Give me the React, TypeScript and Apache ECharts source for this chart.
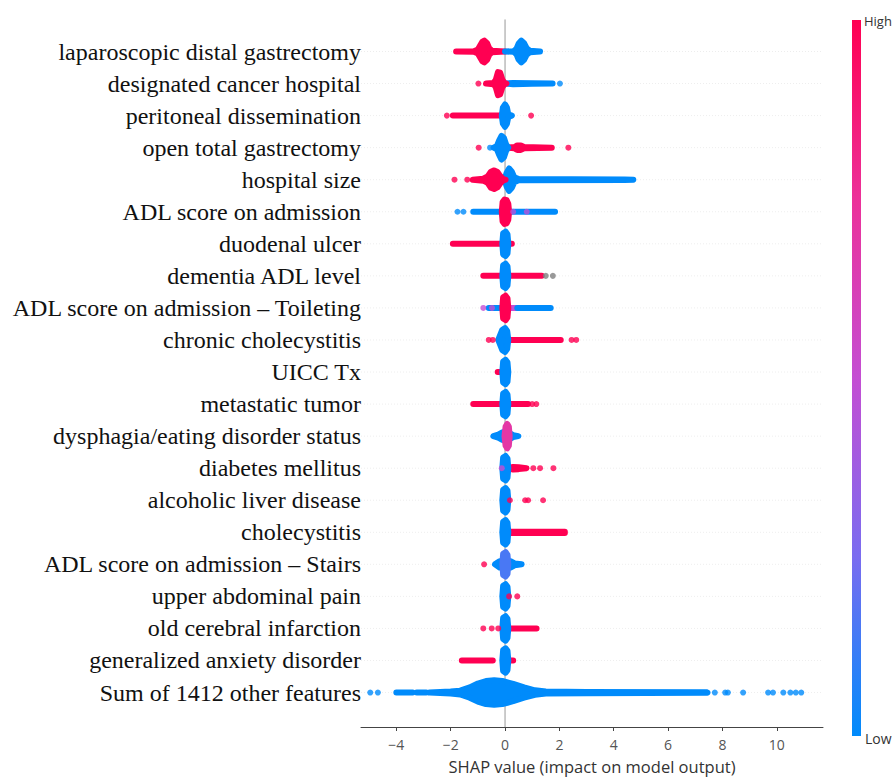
import React, { useEffect, useRef } from "react";
import * as echarts from "echarts";

// Feature names, top to bottom
const features = [
  "laparoscopic distal gastrectomy",
  "designated cancer hospital",
  "peritoneal dissemination",
  "open total gastrectomy",
  "hospital size",
  "ADL score on admission",
  "duodenal ulcer",
  "dementia ADL level",
  "ADL score on admission – Toileting",
  "chronic cholecystitis",
  "UICC Tx",
  "metastatic tumor",
  "dysphagia/eating disorder status",
  "diabetes mellitus",
  "alcoholic liver disease",
  "cholecystitis",
  "ADL score on admission – Stairs",
  "upper abdominal pain",
  "old cerebral infarction",
  "generalized anxiety disorder",
  "Sum of 1412 other features",
];

const xTicks = [-4, -2, 0, 2, 4, 6, 8, 10];

// Density profile of the narrow spike of points piled up at SHAP ≈ 0: [shap, half-height in rows]
const zeroSpindle: number[][] = [[-0.1, 0], [-0.07, 0.33], [0.02, 0.38], [0.09, 0.3], [0.12, 0]];

// Dense runs / swarms: [row, feature value (0 low .. 1 high), profile [[shap, halfHeight], ...]]
const swarms: [number, number, number[][]][] = [
  [0, 1, [[-1.8, 0], [-1.15, 0.01], [-1.0, 0.06], [-0.92, 0.18], [-0.84, 0.3], [-0.76, 0.34], [-0.66, 0.26], [-0.58, 0.1], [-0.48, 0.02], [0, 0]]],
  [0, 0, [[0, 0], [0.32, 0.01], [0.42, 0.08], [0.5, 0.25], [0.6, 0.34], [0.7, 0.26], [0.8, 0.1], [0.92, 0.02], [1.29, 0]]],
  [1, 0, [[0, 0], [0.3, 0.02], [1.0, 0.01], [1.75, 0]]],
  [1, 1, [[-0.7, 0], [-0.42, 0.02], [-0.34, 0.12], [-0.26, 0.36], [-0.18, 0.34], [-0.1, 0.12], [-0.02, 0.02], [0.05, 0]]],
  [2, 1, [[-1.92, 0], [0.05, 0]]],
  [2, 0, [[-0.12, 0], [-0.08, 0.25], [0, 0.35], [0.07, 0.25], [0.12, 0.04], [0.25, 0]]],
  [3, 1, [[0, 0], [0.35, 0.02], [0.45, 0.07], [0.58, 0.07], [0.7, 0.02], [1.72, 0]]],
  [3, 0, [[-0.42, 0], [-0.3, 0.05], [-0.22, 0.22], [-0.13, 0.37], [-0.04, 0.3], [0.04, 0.1], [0.12, 0]]],
  [4, 0, [[0, 0.04], [0.06, 0.22], [0.15, 0.35], [0.25, 0.25], [0.34, 0.08], [0.5, 0.02], [4.4, 0.01], [4.72, 0]]],
  [4, 1, [[-1.19, 0], [-0.8, 0.03], [-0.64, 0.1], [-0.52, 0.25], [-0.4, 0.29], [-0.28, 0.24], [-0.18, 0.12], [-0.08, 0.03], [0.02, 0]]],
  [5, 0, [[-1.17, 0], [1.84, 0]]],
  [5, 1, [[-0.12, 0], [-0.09, 0.3], [-0.02, 0.38], [0.06, 0.36], [0.12, 0.25], [0.15, 0]]],
  [6, 1, [[-1.92, 0], [0.25, 0]]],
  [6, 0, zeroSpindle],
  [7, 1, [[-0.8, 0], [1.35, 0]]],
  [7, 0, zeroSpindle],
  [8, 0, [[-0.6, 0], [0, 0]]],
  [8, 0.5, [[0, 0], [0.45, 0]]],
  [8, 0, [[0.45, 0], [1.68, 0]]],
  [8, 1, zeroSpindle],
  [9, 1, [[0.05, 0], [2.05, 0]]],
  [9, 0, [[-0.25, 0], [-0.1, 0.32], [0, 0.37], [0.08, 0.28], [0.12, 0]]],
  [10, 1, [[-0.27, 0], [-0.12, 0]]],
  [10, 0, zeroSpindle],
  [11, 1, [[-1.17, 0], [0.85, 0]]],
  [11, 0, zeroSpindle],
  [12, 0, [[-0.43, 0], [-0.25, 0.05], [-0.1, 0.12], [0.15, 0.1], [0.3, 0.03], [0.49, 0]]],
  [12, 0.7, [[-0.02, 0], [0.02, 0.3], [0.08, 0.38], [0.14, 0.3], [0.17, 0]]],
  [13, 1, [[0.1, 0], [0.3, 0.04], [0.5, 0.03], [0.79, 0]]],
  [13, 0, zeroSpindle],
  [14, 0, zeroSpindle],
  [15, 1, [[0.05, 0.02], [2.2, 0.02]]],
  [15, 0, zeroSpindle],
  [16, 0, [[-0.37, 0], [-0.2, 0.1], [0.2, 0.1], [0.35, 0.03], [0.61, 0]]],
  [16, 0.15, zeroSpindle],
  [17, 0, zeroSpindle],
  [18, 1, [[0.1, 0], [1.16, 0]]],
  [18, 0, zeroSpindle],
  [19, 1, [[-1.59, 0], [-0.45, 0]]],
  [19, 1, [[0.15, 0], [0.3, 0]]],
  [19, 0, zeroSpindle],
  [20, 0, [[-4.0, 0], [-3.4, 0]]],
  [20, 0, [[-3.25, 0], [-2.9, 0]]],
  [20, 0, [[-2.78, 0], [-2.0, 0.03], [-1.65, 0.06], [-1.3, 0.16], [-1.0, 0.28], [-0.7, 0.36], [-0.4, 0.38], [-0.1, 0.36], [0.3, 0.27], [0.7, 0.16], [1.1, 0.07], [1.5, 0.03], [3, 0.02], [7.41, 0.01], [7.45, 0]]],
];

// Isolated points: [row, shap, feature value]
const points: [number, number, number][] = [
  [1, -0.98, 1], [1, 2.02, 0],
  [2, -2.14, 1], [2, 0.96, 1],
  [3, -0.97, 1], [3, -0.55, 0], [3, 2.33, 1],
  [4, -1.86, 1], [4, -1.39, 1],
  [5, -1.75, 0], [5, -1.53, 0], [5, 0.3, 0.45], [5, 0.8, 0.45],
  [8, -0.8, 0.5], [8, -0.48, 0.5],
  [9, -0.6, 1], [9, -0.45, 1], [9, 2.45, 1], [9, 2.62, 1],
  [11, 1.0, 1], [11, 1.15, 1],
  [13, -0.12, 0.5], [13, 1.04, 1], [13, 1.29, 1], [13, 1.78, 1],
  [14, 0.18, 1], [14, 0.74, 1], [14, 0.85, 1], [14, 1.4, 1],
  [16, -0.77, 1],
  [17, 0.15, 1], [17, 0.45, 1],
  [18, -0.8, 1], [18, -0.49, 1], [18, -0.25, 1],
  [20, -4.96, 0], [20, -4.68, 0], [20, 7.72, 0], [20, 8.1, 0], [20, 8.2, 0], [20, 8.76, 0],
  [20, 9.68, 0], [20, 9.86, 0], [20, 10.24, 0], [20, 10.5, 0], [20, 10.7, 0], [20, 10.9, 0],
];

// Points with missing feature value (grey): [row, shap]
const missingPoints: [number, number][] = [[7, 1.5], [7, 1.76]];

const colorStops = ["#008bfb", "#7a6cf0", "#c44ed3", "#ec3199", "#ff0052"];

const X_MIN = -5.3;
const X_MAX = 11.7;
const Y_MIN = -1.075;
const Y_MAX = 21;
const N = features.length;

export default function App() {
  const ref = useRef<HTMLDivElement>(null);
  useEffect(() => {
    if (!ref.current) return;
    const chart = echarts.init(ref.current, null, { renderer: "svg" });
    const yOf = (row: number) => N - 1 - row;
    const option: any = {
      animation: false,
      grid: { left: 361, right: 70, top: 19.45, bottom: 42, containLabel: false },
      xAxis: {
        type: "value",
        min: X_MIN,
        max: X_MAX,
        axisLine: { show: true, onZero: false, lineStyle: { color: "#444", width: 1 } },
        axisTick: { show: true, length: 4, customValues: xTicks, lineStyle: { color: "#444" } },
        axisLabel: {
          customValues: xTicks,
          margin: 10,
          fontFamily: "Open Sans",
          fontSize: 14,
          color: "#555",
          formatter: (v: number) => (v < 0 ? "\u2212" + Math.abs(v) : String(v)),
        },
        splitLine: { show: false },
        name: "SHAP value (impact on model output)",
        nameLocation: "middle",
        nameGap: 31,
        nameTextStyle: { fontFamily: "Open Sans", fontSize: 16.5, color: "#333" },
      },
      yAxis: {
        type: "value",
        min: Y_MIN,
        max: Y_MAX,
        axisLine: { show: false },
        axisTick: { show: false },
        splitLine: { show: false },
        axisLabel: {
          customValues: features.map((_, i) => i),
          margin: 0,
          fontFamily: "Liberation Serif",
          fontSize: 24,
          color: "#111",
          formatter: (v: number) => features[N - 1 - v] ?? "",
        },
      },
      visualMap: {
        show: false,
        type: "continuous",
        min: 0,
        max: 1,
        dimension: 2,
        seriesIndex: [2, 3],
        inRange: { color: colorStops },
      },
      series: [
        {
          type: "custom",
          z: 1,
          silent: true,
          data: features.map((_, i) => [X_MIN, yOf(i)]),
          encode: { x: 0, y: 1 },
          renderItem: (params: any, api: any) => {
            const y = api.value(1);
            const a = api.coord([X_MIN, y]);
            const b = api.coord([X_MAX, y]);
            return {
              type: "line",
              shape: { x1: a[0], y1: a[1], x2: b[0], y2: b[1] },
              style: { stroke: "rgba(0,0,0,0.07)", lineWidth: 1, lineDash: [1, 2] },
            };
          },
        },
        {
          type: "line",
          z: 1,
          silent: true,
          symbol: "none",
          lineStyle: { color: "#999", width: 1 },
          data: [[0, Y_MIN], [0, Y_MAX]],
        },
        {
          type: "custom",
          z: 2,
          data: swarms.map((s, k) => [s[2][0][0], yOf(s[0]), s[1], k]),
          encode: { x: 0, y: 1 },
          renderItem: (params: any, api: any) => {
            const s = swarms[params.dataIndex];
            const y = yOf(s[0]);
            const unit = api.size([0, 1])[1];
            const prof = s[2];
            const top = prof.map(([x, h]) => {
              const p = api.coord([x, y]);
              return [p[0], p[1] - h * unit];
            });
            const bot = prof
              .slice()
              .reverse()
              .map(([x, h]) => {
                const p = api.coord([x, y]);
                return [p[0], p[1] + h * unit];
              });
            const color = api.visual("color");
            return {
              type: "polygon",
              shape: { points: top.concat(bot) },
              style: { fill: color, stroke: color, lineWidth: 6, lineJoin: "round" },
            };
          },
        },
        {
          type: "scatter",
          z: 3,
          symbolSize: 6,
          data: points.map((p) => [p[1], yOf(p[0]), p[2]]),
        },
        {
          type: "scatter",
          z: 3,
          symbolSize: 6,
          itemStyle: { color: "#808080" },
          data: missingPoints.map((p) => [p[1], yOf(p[0])]),
        },
      ],
      graphic: [
        {
          type: "rect",
          shape: { x: 852, y: 20, width: 9, height: 716 },
          style: {
            fill: new echarts.graphic.LinearGradient(
              0, 1, 0, 0,
              colorStops.map((c, i) => ({ offset: i / (colorStops.length - 1), color: c }))
            ),
          },
        },
        {
          type: "text",
          x: 864,
          y: 21,
          style: { text: "High", fontFamily: "Open Sans", fontSize: 13, fill: "#333", verticalAlign: "middle" },
        },
        {
          type: "text",
          x: 865,
          y: 738,
          style: { text: "Low", fontFamily: "Open Sans", fontSize: 14, fill: "#333", verticalAlign: "middle" },
        },
      ],
    };
    chart.setOption(option);
    return () => chart.dispose();
  }, []);
  return (
    <div
      ref={ref}
      style={{ position: "fixed", left: 0, top: 0, width: 893, height: 780, background: "#fff" }}
    />
  );
}
